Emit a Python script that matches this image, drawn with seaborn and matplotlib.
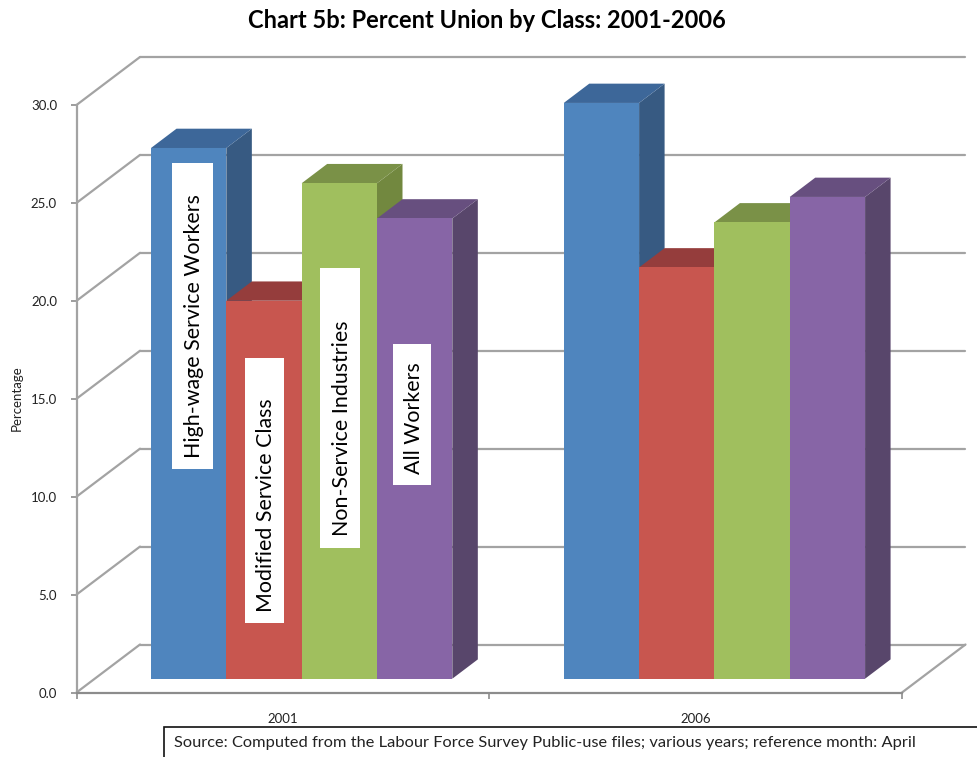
import numpy as np
import pandas as pd
import matplotlib
matplotlib.use("Agg")
import matplotlib.pyplot as plt
from matplotlib.patches import Polygon, Rectangle
import seaborn as sns

years = ["2001", "2006"]
classes = ["High-wage Service Workers", "Modified Service Class", "Non-Service Industries", "All Workers"]
pct_2001 = [27.1, 19.3, 25.3, 23.5]
pct_2006 = [29.4, 21.0, 23.3, 24.6]
y_ticks = [0, 5, 10, 15, 20, 25, 30]

front_cols = ["#4F85BE", "#C8564F", "#A0BF5E", "#8765A6"]
side_cols = ["#375A82", "#8A3A38", "#72883F", "#58466B"]
top_cols = ["#3D6799", "#953D3C", "#7A9147", "#674F7F"]
GRID = "#a3a3a3"

W, H = 977, 757
sns.set_style("white")
plt.rcParams["font.family"] = ["Lato", "DejaVu Sans"]

fig = plt.figure(figsize=(W / 100, H / 100), dpi=100)

def px(x, y):
    return x / W, 1 - y / H

# wall axes, front plane of the box
L, R, T, B = 76.5, 902, 105, 692.5
ax = fig.add_axes([L / W, 1 - B / H, (R - L) / W, (B - T) / H])
ax.set_xlim(-0.5, 1.5)
ax.set_ylim(0, 30)
ax.patch.set_alpha(0)
sx = (R - L) / 2  # px per category
sy = (B - T) / 30  # px per unit

# walls and floor
dx, dy = 63.5 / sx, 48 / sy
for v in y_ticks:
    ax.plot([-0.5, -0.5 + dx], [v, v + dy], color=GRID, lw=1.6, clip_on=False)
    ax.plot([-0.5 + dx, 1.5 + dx], [v + dy, v + dy], color=GRID, lw=1.6, clip_on=False)
ax.plot([1.5, 1.5 + dx], [0, dy], color=GRID, lw=1.6, clip_on=False)

for s in ["top", "right"]:
    ax.spines[s].set_visible(False)
ax.spines["left"].set_color(GRID)
ax.spines["left"].set_linewidth(1.6)
ax.spines["bottom"].set_color("#8c8c8c")
ax.spines["bottom"].set_linewidth(1.6)
ax.set_yticks(y_ticks)
ax.set_yticklabels(["%.1f" % v for v in y_ticks], fontsize=9.5, color="#222222")
ax.set_xticks([-0.5, 0.5, 1.5])
ax.set_xticklabels([])
ax.tick_params(axis="both", length=4, width=1.2, color="#8c8c8c", left=True, bottom=True, pad=10)
ax.set_xticks([0, 1], minor=True)
ax.set_xticklabels(years, minor=True, fontsize=9.5, color="#222222")
ax.tick_params(axis="x", which="minor", length=0, pad=15)

# bars sit a bit deeper than the front plane
shift_x, shift_y = 18.8, 13.8
ax_b = fig.add_axes([(L + shift_x) / W, 1 - (B - shift_y) / H, (R - L) / W, (B - T) / H])
ax_b.patch.set_alpha(0)

df = pd.DataFrame({
    "year": np.repeat(years, len(classes)),
    "cls": classes * len(years),
    "pct": pct_2001 + pct_2006,
})
sns.barplot(data=df, x="year", y="pct", hue="cls", hue_order=classes,
            palette=front_cols, saturation=1, width=0.73, gap=0,
            linewidth=0, legend=False, ax=ax_b)
ax_b.set_xlim(-0.5, 1.5)
ax_b.set_ylim(0, 30)
ax_b.axis("off")

# fake 3d faces, painted left to right
bx, by = 25.5 / sx, 19.3 / sy
bars = sorted(ax_b.patches, key=lambda p: p.get_x())
for i, p in enumerate(bars):
    c = classes.index(df["cls"].iloc[i])
    x0, w, h = p.get_x(), p.get_width(), p.get_height()
    p.set_zorder(10 + i * 3 + 2)
    p.set_clip_on(False)
    ax_b.add_patch(Polygon([(x0 + w, 0), (x0 + w + bx, by), (x0 + w + bx, h + by), (x0 + w, h)],
                           closed=True, fc=side_cols[c], ec="none", clip_on=False, zorder=10 + i * 3))
    ax_b.add_patch(Polygon([(x0, h), (x0 + bx, h + by), (x0 + w + bx, h + by), (x0 + w, h)],
                           closed=True, fc=top_cols[c], ec="none", clip_on=False, zorder=10 + i * 3 + 1))

# white label boxes (left, top, right, bottom, text centre y)
boxes = [(172, 163, 213, 469, 326), (245, 358, 284, 623, 505),
         (320, 268, 360, 548, 428), (393, 344, 431, 485, 418)]
for (x0, y0, x1, y1, yc), name in zip(boxes, classes):
    fig.add_artist(Rectangle(px(x0, y1), (x1 - x0) / W, (y1 - y0) / H, transform=fig.transFigure,
                             fc="white", ec="none", zorder=5))
    xc = px((x0 + x1) / 2 + 1.5, 0)[0]
    fig.text(xc, px(0, yc)[1], name, rotation=90, ha="center", va="center",
             fontsize=15.4, color="black", zorder=6)

# titles and source box
fig.text(*px(487, 20), "Chart 5b: Percent Union by Class: 2001-2006", ha="center", va="center",
         fontsize=17, fontweight="bold", color="black")
fig.text(*px(17, 398), "Percentage", rotation=90, ha="center", va="center", fontsize=9.5, color="#222222")
fig.add_artist(Rectangle(px(163.5, 770), 830 / W, 43 / H, transform=fig.transFigure,
                         fc="white", ec="#111111", lw=1.2, zorder=5))
fig.text(*px(174, 743), "Source: Computed from the Labour Force Survey Public-use files; various years; reference month: April",
         ha="left", va="center", fontsize=11.75, color="#222222", zorder=6)

fig.savefig("out.png", dpi=100)
